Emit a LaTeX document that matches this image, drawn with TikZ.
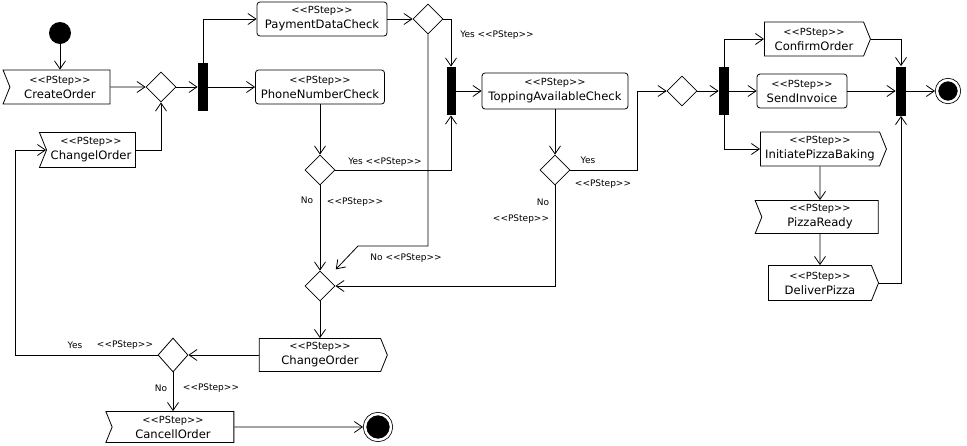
\documentclass[tikz,border=0pt]{standalone}
\usepackage{fontspec}
\setmainfont{DejaVu Sans}[Ligatures=TeXOff]
\usetikzlibrary{shapes.geometric,shapes.symbols,arrows.meta}
\newcommand{\pst}{{\fontsize{9.8}{10}\selectfont<<PStep>>}}
\tikzset{
  >={Straight Barb[length=8pt,width=11pt]},
  box/.style={draw,align=center,inner sep=0pt,font=\fontsize{11.6}{15}\selectfont},
  proc/.style={box,rounded corners=3pt},
  sendsig/.style={box,signal,signal to=east,signal pointer angle=136},
  recvsig/.style={box,signal,signal from=west,signal to=nowhere,signal pointer angle=136},
  decision/.style={draw,diamond,minimum width=30pt,minimum height=30pt,inner sep=0pt},
  bar/.style={fill=black,minimum width=10pt,minimum height=48pt,inner sep=0pt},
  startdot/.style={circle,fill=black,minimum size=22pt,inner sep=0pt},
  enddot/.style={circle,draw,fill=black,double=white,double distance=2.5pt,inner sep=0pt,outer sep=2pt},
  lbl/.style={font=\fontsize{9}{10}\selectfont,inner sep=0pt}
}
\begin{document}
\begin{tikzpicture}[x=1pt,y=-1pt,line width=0.8pt]
\useasboundingbox (0,0) rectangle (967,445);
\node (start) [startdot] at (60,33) {};
\node (create) [recvsig,minimum width=107pt,minimum height=34pt] at (60,87) {\pst\\CreateOrder};
\node (changel) [recvsig,minimum width=96pt,minimum height=35pt] at (91,150) {\pst\\ChangelOrder};
\node (d1) [decision] at (161,87) {};
\node (b1) [bar] at (203,87) {};
\node (pay) [proc,minimum width=130pt,minimum height=34pt] at (322,19) {\pst\\PaymentDataCheck};
\node (phone) [proc,minimum width=129pt,minimum height=34pt] at (320,87) {\pst\\PhoneNumberCheck};
\node (d2) [decision] at (428,19) {};
\node (d3) [decision] at (320,170) {};
\node (b2) [bar,minimum width=9pt] at (451,91) {};
\node (topping) [proc,minimum width=146pt,minimum height=36pt] at (555,91) {\pst\\ToppingAvailableCheck};
\node (d4) [decision] at (555,170) {};
\node (d5) [decision] at (320,286) {};
\node (d6) [decision] at (682,91) {};
\node (b3) [bar] at (724,91) {};
\node (confirm) [sendsig,minimum width=106pt,minimum height=34pt] at (814,39) {\pst\\ConfirmOrder};
\node (invoice) [proc,minimum width=90pt,minimum height=34pt] at (802,91) {\pst\\SendInvoice};
\node (baking) [sendsig,minimum width=126pt,minimum height=34pt] at (820,149) {\pst\\InitiatePizzaBaking};
\node (ready) [recvsig,minimum width=123pt,minimum height=33pt] at (820,217) {\pst\\PizzaReady};
\node (deliver) [sendsig,minimum width=110pt,minimum height=35pt] at (820,283) {\pst\\DeliverPizza};
\node (b4) [bar,minimum height=49pt] at (901,91) {};
\node (end1) [enddot,minimum size=22pt] at (948,91) {};
\node (change) [sendsig,minimum width=128pt,minimum height=33pt] at (320,355) {\pst\\ChangeOrder};
\node (d7) [decision,minimum height=34pt] at (173,355) {};
\node (cancel) [recvsig,minimum width=128pt,minimum height=31pt] at (173,427) {\pst\\CancellOrder};
\node (end2) [enddot,minimum size=26pt] at (378,427) {};
\coordinate (c1) at (358,246);
\coordinate (c2) at (637,170);
\coordinate (c3) at (15,150);
\node (l1) [lbl] at (497,35) {Yes <<PStep>>};
\node (l2) [lbl] at (385,162) {Yes <<PStep>>};
\node (l3) [lbl] at (307,200) {No};
\node (l4) [lbl] at (355,202) {<<PStep>>};
\node (l5) [lbl] at (406,258) {No <<PStep>>};
\node (l6) [lbl] at (588,160) {Yes};
\node (l7) [lbl] at (603,184) {<<PStep>>};
\node (l8) [lbl] at (543,202) {No};
\node (l9) [lbl] at (521,219) {<<PStep>>};
\node (l10) [lbl] at (75,345) {Yes};
\node (l11) [lbl] at (125,345) {<<PStep>>};
\node (l12) [lbl] at (161,388) {No};
\node (l13) [lbl] at (211,388) {<<PStep>>};
\draw [->] (start) -- (create);
\draw [->] (create) -- (d1);
\draw [->] (changel.east) -| (d1.south);
\draw [->] (d1) -- (b1);
\draw [->] (b1.north) |- (pay.west);
\draw [->] (b1) -- (phone);
\draw [->] (pay) -- (d2);
\draw [->] (d2.east) -| (b2.north);
\draw [->,shorten >=12pt] (d2.south) |- (c1) -- (d5);
\draw [->] (phone) -- (d3);
\draw [->] (d3.east) -| (b2.south);
\draw [->] (d3) -- (d5);
\draw [->] (b2) -- (topping);
\draw [->] (topping) -- (d4);
\draw [->] (d4.east) -- (c2) |- (d6.west);
\draw [->] (d4.south) |- (d5.east);
\draw [->] (d6) -- (b3);
\draw [->] (b3.north) |- (confirm.west);
\draw [->] (b3) -- (invoice);
\draw [->] (b3.south) |- (baking.west);
\draw [->] (baking) -- (ready);
\draw [->] (ready) -- (deliver);
\draw [->] (confirm.east) -| (b4.north);
\draw [->] (invoice) -- (b4);
\draw [->] (deliver.east) -| (b4.south);
\draw [->] (b4) -- (end1);
\draw [->] (d5) -- (change);
\draw [->] (change.west) -- (d7.east);
\draw [->] (d7.west) -| (c3) -- (changel.west);
\draw [->] (d7) -- (cancel);
\draw [->] (cancel) -- (end2);
\end{tikzpicture}
\end{document}
